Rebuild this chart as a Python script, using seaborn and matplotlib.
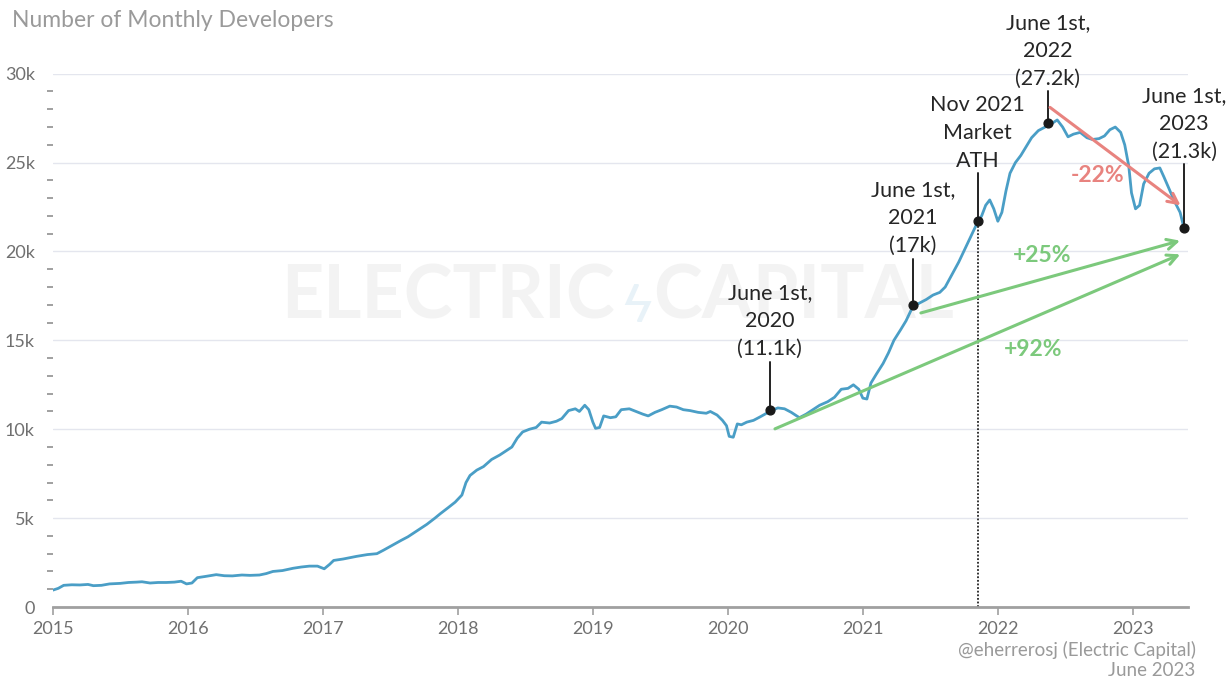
import numpy as np
import pandas as pd
import seaborn as sns
import matplotlib
matplotlib.use("Agg")
import matplotlib.pyplot as plt
from matplotlib.ticker import MultipleLocator, FuncFormatter

# Monthly developers (thousands), x as fractional year
dates = [
    2015.00, 2015.04, 2015.08, 2015.14, 2015.20, 2015.26, 2015.30, 2015.36, 2015.42, 2015.50,
    2015.56, 2015.62, 2015.66, 2015.72, 2015.78, 2015.84, 2015.90, 2015.95, 2015.99, 2016.03,
    2016.07, 2016.13, 2016.21, 2016.27, 2016.33, 2016.40, 2016.46, 2016.53, 2016.58, 2016.63,
    2016.70, 2016.78, 2016.84, 2016.90, 2016.96, 2017.01, 2017.05, 2017.08, 2017.15, 2017.25,
    2017.33, 2017.40, 2017.45, 2017.52, 2017.58, 2017.63, 2017.70, 2017.77, 2017.83, 2017.87,
    2017.93, 2017.98, 2018.03, 2018.06, 2018.09, 2018.14, 2018.19, 2018.25, 2018.31, 2018.36,
    2018.40, 2018.44, 2018.48, 2018.53, 2018.58, 2018.62, 2018.68, 2018.73, 2018.77, 2018.82,
    2018.87, 2018.90, 2018.94, 2018.97, 2019.00, 2019.02, 2019.05, 2019.08, 2019.13, 2019.17,
    2019.21, 2019.27, 2019.32, 2019.37, 2019.41, 2019.46, 2019.51, 2019.57, 2019.62, 2019.67,
    2019.72, 2019.78, 2019.84, 2019.87, 2019.92, 2019.96, 2019.99, 2020.01, 2020.04, 2020.07,
    2020.10, 2020.14, 2020.19, 2020.24, 2020.31, 2020.37, 2020.42, 2020.47, 2020.53, 2020.58,
    2020.63, 2020.68, 2020.74, 2020.79, 2020.84, 2020.89, 2020.93, 2020.97, 2021.00, 2021.03,
    2021.06, 2021.10, 2021.15, 2021.19, 2021.23, 2021.28, 2021.32, 2021.37, 2021.42, 2021.47,
    2021.52, 2021.57, 2021.61, 2021.66, 2021.71, 2021.76, 2021.81, 2021.85, 2021.88, 2021.91,
    2021.94, 2021.97, 2022.00, 2022.03, 2022.06, 2022.09, 2022.13, 2022.17, 2022.21, 2022.25,
    2022.30, 2022.35, 2022.39, 2022.44, 2022.48, 2022.52, 2022.56, 2022.61, 2022.66, 2022.70,
    2022.75, 2022.79, 2022.83, 2022.87, 2022.91, 2022.94, 2022.97, 2022.99, 2023.02, 2023.05,
    2023.08, 2023.12, 2023.16, 2023.20, 2023.23, 2023.27, 2023.31, 2023.35, 2023.38,
]
developers = [
    0.95, 1.05, 1.22, 1.25, 1.24, 1.27, 1.20, 1.22, 1.30, 1.33,
    1.38, 1.40, 1.42, 1.35, 1.38, 1.38, 1.40, 1.45, 1.30, 1.35,
    1.65, 1.72, 1.82, 1.76, 1.75, 1.80, 1.78, 1.80, 1.88, 2.00,
    2.05, 2.18, 2.25, 2.30, 2.30, 2.15, 2.40, 2.62, 2.70, 2.85,
    2.95, 3.00, 3.20, 3.50, 3.75, 3.95, 4.30, 4.65, 5.00, 5.25,
    5.60, 5.90, 6.30, 7.00, 7.40, 7.70, 7.90, 8.30, 8.55, 8.80,
    9.00, 9.50, 9.85, 10.00, 10.10, 10.40, 10.35, 10.45, 10.60, 11.05,
    11.15, 11.00, 11.35, 11.10, 10.40, 10.05, 10.10, 10.75, 10.65, 10.70,
    11.10, 11.15, 11.00, 10.85, 10.75, 10.95, 11.10, 11.30, 11.25, 11.10,
    11.05, 10.95, 10.90, 11.00, 10.80, 10.50, 10.20, 9.60, 9.55, 10.30,
    10.25, 10.40, 10.50, 10.70, 11.00, 11.20, 11.15, 10.95, 10.65, 10.85,
    11.10, 11.35, 11.55, 11.80, 12.25, 12.30, 12.50, 12.25, 11.75, 11.70,
    12.60, 13.10, 13.70, 14.30, 15.00, 15.60, 16.10, 16.90, 17.10, 17.30,
    17.55, 17.70, 18.00, 18.70, 19.40, 20.20, 21.00, 21.65, 22.00, 22.60,
    22.90, 22.40, 21.70, 22.20, 23.40, 24.40, 25.00, 25.40, 25.90, 26.40,
    26.80, 27.00, 27.15, 27.40, 27.00, 26.45, 26.60, 26.70, 26.40, 26.30,
    26.35, 26.50, 26.85, 27.00, 26.70, 26.00, 24.80, 23.30, 22.40, 22.60,
    23.80, 24.40, 24.65, 24.70, 24.20, 23.50, 22.80, 22.20, 21.30,
]

# Annotated points
ann_x = [2020.31, 2021.37, 2021.85, 2022.37, 2023.38]
ann_y = [11.1, 17.0, 21.7, 27.2, 21.3]
ann_top = [13.8, 19.6, 24.4, 29.0, 24.9]
ann_labels = ["June 1st,\n2020\n(11.1k)", "June 1st,\n2021\n(17k)", "Nov 2021\nMarket\nATH",
              "June 1st,\n2022\n(27.2k)", "June 1st,\n2023\n(21.3k)"]

# Change arrows: (x0, y0, x1, y1), label, label position
arrows = [
    ((2022.37, 28.2, 2023.37, 22.5), "-22%", (2022.74, 24.3), "#e8837f"),
    ((2021.41, 16.5, 2023.37, 20.65), "+25%", (2022.33, 19.8), "#7cc97c"),
    ((2020.33, 9.96, 2023.37, 19.9), "+92%", (2022.26, 14.5), "#7cc97c"),
]

df = pd.DataFrame({"date": dates, "developers": [v * 1000 for v in developers]})

sns.set_theme(style="white")
plt.rcParams["font.family"] = ["Lato", "DejaVu Sans"]

fig = plt.figure(figsize=(12.3, 6.89), dpi=100)
ax = fig.add_axes([0.043, 0.119, 0.923, 0.774])

# watermark
ax.text(2017.93, 17450, "ELECTRIC", fontsize=53, color="#f3f3f3", ha="center", va="center",
        fontweight="bold", zorder=0)
ax.text(2019.33, 17450, "ϟ", fontsize=40, color="#e8f2f8", ha="center", va="center", zorder=0)
ax.text(2020.56, 17450, "CAPITAL", fontsize=53, color="#f3f3f3", ha="center", va="center",
        fontweight="bold", zorder=0)

sns.lineplot(data=df, x="date", y="developers", ax=ax, color="#4a9ec6", linewidth=2.0, zorder=3)

ax.set_xlim(2015, 2023.41)
ax.set_ylim(0, 30000)
ax.set_xlabel("")
ax.set_ylabel("")

ax.yaxis.set_major_locator(MultipleLocator(5000))
ax.yaxis.set_minor_locator(MultipleLocator(1000))
ax.yaxis.set_major_formatter(FuncFormatter(lambda v, p: "0" if v == 0 else f"{int(v / 1000)}k"))
ax.set_xticks(range(2015, 2024))
ax.set_xticklabels([str(y) for y in range(2015, 2024)])

ax.grid(axis="y", which="major", color="#e4e6ee", linewidth=1.0)
for s in ["top", "right", "left"]:
    ax.spines[s].set_visible(False)
ax.spines["bottom"].set_color("#a0a0a0")
ax.spines["bottom"].set_linewidth(2.0)

ax.tick_params(axis="x", which="major", length=6, width=1.2, color="#a0a0a0",
               labelsize=13, labelcolor="#707070", pad=4, bottom=True)
ax.tick_params(axis="y", which="major", length=0, labelsize=13, labelcolor="#707070", pad=13)
ax.tick_params(axis="y", which="minor", length=4, width=1.2, color="#909090", left=True, pad=2)

# Nov 2021 dotted line
ax.plot([ann_x[2], ann_x[2]], [0, ann_y[2] * 1000], color="#222222", linestyle=(0, (1, 1)),
        linewidth=1.3, zorder=2)

for x, y, top, lab in zip(ann_x, ann_y, ann_top, ann_labels):
    ax.plot([x, x], [top * 1000, y * 1000], color="#222222", linewidth=1.4, zorder=4, clip_on=False)
    ax.scatter([x], [y * 1000], s=40, color="#1a1a1a", zorder=5, clip_on=False)
    ax.text(x, top * 1000 + 150, lab, ha="center", va="bottom", fontsize=15.5, color="#262626",
            linespacing=1.5, zorder=6, clip_on=False)

for (x0, y0, x1, y1), lab, (tx, ty), col in arrows:
    ax.annotate("", xy=(x1, y1 * 1000), xytext=(x0, y0 * 1000),
                arrowprops=dict(arrowstyle="->,head_length=0.6,head_width=0.3", color=col, lw=2.2),
                zorder=4)
    ax.text(tx, ty * 1000, lab, ha="center", va="center", fontsize=16.5, color=col,
            fontweight="bold", zorder=6)

fig.text(0.01, 0.97, "Number of Monthly Developers", fontsize=16.5, color="#9a9a9a",
         ha="left", va="center")
fig.text(0.972, 0.042, "@eherrerosj (Electric Capital)\nJune 2023", fontsize=13.5, color="#9a9a9a",
         ha="right", va="center", multialignment="right", linespacing=1.25)

fig.savefig("out.png", dpi=100)
